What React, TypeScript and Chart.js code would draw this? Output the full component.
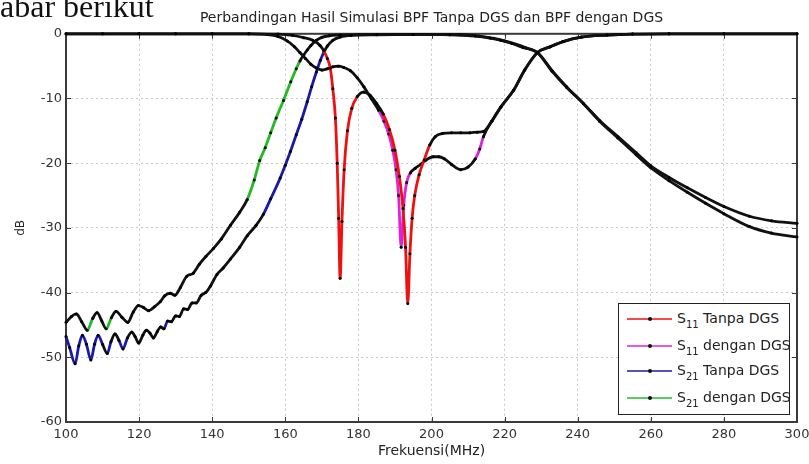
import React, { useEffect, useRef } from "react";
import { Chart, registerables } from "chart.js";

Chart.register(...registerables);

const TITLE = "Perbandingan Hasil Simulasi BPF Tanpa DGS dan BPF dengan DGS";
const X_LABEL = "Frekuensi(MHz)";
const Y_LABEL = "dB";
const X_MIN = 100, X_MAX = 300, X_STEP = 20;
const Y_MIN = -60, Y_MAX = 0, Y_STEP = 10;

const seriesLabels = ["S11 Tanpa DGS", "S11 dengan DGS", "S21 Tanpa DGS", "S21 dengan DGS"];
const seriesColors = ["#ee1111", "#dd22dd", "#1a1aaa", "#22bb22"];

// S11 Tanpa DGS
const s11TanpaFreq = [100, 110, 120, 130, 140, 150, 158, 162, 165, 167.5, 169.5, 170.5, 171.5, 172.3, 173.0, 173.7, 174.2, 174.6, 175.0, 175.5, 176.1, 177, 178.2, 179.7, 181.4, 183.2, 185, 186.8, 188.5, 190, 191.2, 192.2, 192.9, 193.5, 194.1, 194.7, 195.4, 196.6, 198, 199.5, 201, 203, 205.5, 208, 210.5, 212.5, 214.2, 216.5, 219, 222.5, 225.5, 229, 232.5, 236, 241, 248, 255, 265, 280, 300];
const s11TanpaDb = [0, 0, 0, 0, 0, 0, -0.05, -0.25, -0.6, -1.0, -1.8, -2.6, -3.8, -5.3, -8.5, -13, -20, -28.5, -37.8, -29, -21, -15, -11.5, -9.7, -9.0, -9.5, -10.8, -12.4, -14.8, -18, -22, -27, -33, -41.7, -34, -28.5, -25, -21.8, -19.5, -17.2, -15.9, -15.4, -15.3, -15.3, -15.3, -15.2, -15.1, -13.5, -11.3, -8.7, -5.6, -2.9, -2.0, -1.2, -0.5, -0.2, -0.05, 0, 0, 0];

// S11 dengan DGS
const s11DenganFreq = [100, 110, 120, 130, 140, 150, 155, 158, 160.5, 162.5, 164, 165.5, 167, 168.5, 170, 171.5, 173, 174.5, 176, 177.8, 179.7, 181.5, 183.5, 185.5, 187, 188.3, 189.4, 190.3, 191, 191.7, 192.4, 193.2, 194.2, 195.5, 197, 198.5, 200.5, 202, 203.5, 205.5, 208, 210, 212, 213.2, 214.2, 216.5, 219, 222.5, 225.5, 229, 232.5, 236, 241, 248, 255, 265, 280, 300];
const s11DenganDb = [0, 0, 0, 0, 0, 0, -0.1, -0.4, -1.1, -2.0, -2.9, -3.8, -4.7, -5.3, -5.6, -5.4, -5.1, -5.0, -5.2, -5.7, -6.8, -8.2, -10, -11.8, -13.5, -15.5, -18, -21, -25, -33, -26.5, -23, -21.5, -20.8, -20.2, -19.5, -19, -19, -19.3, -20.2, -21, -20.6, -19.3, -17.8, -15.9, -13.5, -11.3, -8.7, -5.6, -2.9, -2.0, -1.2, -0.5, -0.2, -0.05, 0, 0, 0];

// S21 Tanpa DGS
const s21TanpaFreq = [100, 101, 102.5, 103.5, 104.5, 105.6, 106.8, 107.8, 108.8, 110, 111.3, 112.3, 113.4, 114.5, 115.6, 116.8, 118, 118.9, 119.9, 121, 122, 123, 123.9, 125, 125.9, 126.8, 127.8, 128.8, 130, 131, 132.2, 133.3, 134.5, 135.6, 137, 138.2, 139.5, 141.3, 143, 145, 147.5, 149.6, 152, 154, 156, 158.6, 160, 161.4, 163, 164.5, 166, 167.2, 168.5, 169.6, 170.6, 171.5, 173, 175, 178, 185, 195, 205, 212, 216, 219, 222, 225, 229, 233, 237, 241.6, 246, 251, 256, 260, 265, 270, 275, 280, 287, 293, 300];
const s21TanpaDb = [-46.8, -48.5, -51, -48.2, -46.6, -48, -50.4, -48, -46.6, -48, -49.4, -47.6, -46.4, -47.4, -48.7, -47, -46.1, -46.8, -47.8, -46.6, -45.8, -46.3, -47, -46, -45.3, -45.6, -44.4, -44.5, -43.6, -43.7, -42.5, -42.6, -41.6, -41.6, -40.4, -40, -39, -37.2, -36.2, -34.8, -33, -31.2, -29.6, -27.9, -25.5, -22.3, -20.3, -18.2, -15.6, -13.2, -10.5, -8.2, -5.9, -4.1, -2.8, -1.9, -1.0, -0.5, -0.25, -0.15, -0.1, -0.15, -0.35, -0.65, -1.0, -1.5, -2.1, -2.9, -5.7, -8.2, -10.8, -13.5, -16.1, -18.7, -20.7, -22.7, -24.5, -26.2, -27.8, -29.8, -30.8, -31.4];

// S21 dengan DGS
const s21DenganFreq = [100, 101.5, 102.8, 104.3, 105.8, 107.3, 108.5, 109.8, 111, 112.4, 113.7, 115.3, 116.9, 118.4, 119.8, 121.2, 122.6, 124.2, 125.8, 127, 128.5, 129.8, 131.3, 133, 134.8, 136.5, 138.3, 140.3, 142.5, 145, 147.5, 149.6, 151.5, 153, 154.5, 156, 157.5, 159.5, 161.5, 163, 164, 165, 166, 167, 168.5, 170, 172, 175, 180, 190, 200, 208, 213, 217, 220, 223, 226, 229, 233, 237, 241.6, 246, 251, 256, 260, 265, 270, 275, 280, 287, 293, 300];
const s21DenganDb = [-44.6, -43.7, -43.3, -44.5, -45.8, -44, -43.1, -44.4, -45.6, -43.9, -42.9, -43.8, -44.6, -43, -42, -42.3, -42.8, -42.2, -41.4, -40.5, -40.1, -40.4, -39.2, -37.5, -37, -35.6, -34.4, -33.2, -31.7, -29.6, -27.6, -25.6, -22.6, -19.6, -17.6, -15.3, -13, -10.3, -7.4, -5.4, -4.2, -3.3, -2.5, -1.8, -1.0, -0.55, -0.3, -0.2, -0.12, -0.1, -0.1, -0.15, -0.35, -0.7, -1.1, -1.6, -2.2, -2.9, -5.8, -8.3, -10.8, -13.4, -15.9, -18.4, -20.4, -22.2, -23.8, -25.3, -26.7, -28.2, -28.9, -29.3];

const seriesFreqs = [s11TanpaFreq, s11DenganFreq, s21TanpaFreq, s21DenganFreq];
const seriesDbs = [s11TanpaDb, s11DenganDb, s21TanpaDb, s21DenganDb];

const FONT = "'DejaVu Sans', 'Liberation Sans', Arial, sans-serif";

const boxPlugin = {
  id: "matlabBox",
  beforeDatasetsDraw(chart: any) {
    const { ctx, chartArea, scales } = chart;
    const { left, right, top, bottom } = chartArea;
    ctx.save();
    ctx.strokeStyle = "#3a3a3a";
    ctx.lineWidth = 2;
    ctx.strokeRect(left, top, right - left, bottom - top);
    ctx.lineWidth = 1;
    ctx.beginPath();
    scales.x.ticks.forEach((t: any) => {
      const px = Math.round(scales.x.getPixelForValue(t.value)) + 0.5;
      ctx.moveTo(px, bottom); ctx.lineTo(px, bottom - 5);
      ctx.moveTo(px, top); ctx.lineTo(px, top + 5);
    });
    scales.y.ticks.forEach((t: any) => {
      const py = Math.round(scales.y.getPixelForValue(t.value)) + 0.5;
      ctx.moveTo(left, py); ctx.lineTo(left + 5, py);
      ctx.moveTo(right, py); ctx.lineTo(right - 5, py);
    });
    ctx.stroke();
    ctx.restore();
  },
};

function Legend() {
  const rows = [15, 42, 67, 94];
  const subs = ["11", "11", "21", "21"];
  const rest = [" Tanpa DGS", " dengan DGS", " Tanpa DGS", " dengan DGS"];
  return (
    <div style={{ position: "absolute", left: 618, top: 303, width: 172, height: 112, boxSizing: "border-box", border: "1.5px solid #222", background: "#fff", fontFamily: FONT, fontSize: 14, color: "#222" }}>
      {rows.map((c, i) => (
        <React.Fragment key={i}>
          <div style={{ position: "absolute", left: 8, top: c - 1, width: 45, height: 1.5, background: seriesColors[i], opacity: 0.75 }} />
          <div style={{ position: "absolute", left: 29, top: c - 2, width: 4, height: 4, borderRadius: "50%", background: "#111" }} />
          <div style={{ position: "absolute", left: 58, top: c - 10, lineHeight: "18px", whiteSpace: "nowrap" }}>
            S<span style={{ fontSize: 10, position: "relative", top: 5 }}>{subs[i]}</span>{rest[i]}
          </div>
        </React.Fragment>
      ))}
    </div>
  );
}

export default function App() {
  const ref = useRef<HTMLCanvasElement | null>(null);
  useEffect(() => {
    if (!ref.current) return;
    const datasets = seriesLabels.map((label, i) => {
      const color = seriesColors[i];
      return {
        label,
        data: seriesFreqs[i].map((f, j) => ({ x: f, y: seriesDbs[i][j] })),
        borderColor: "#111",
        borderWidth: 2.8,
        pointRadius: 1.5,
        pointHoverRadius: 0,
        pointBackgroundColor: "#000",
        pointBorderWidth: 0,
        cubicInterpolationMode: "monotone" as const,
        clip: false as any,
        segment: {
          borderColor: (ctx: any) => {
            const dx = Math.abs(ctx.p1.x - ctx.p0.x);
            const dy = Math.abs(ctx.p1.y - ctx.p0.y);
            return dy > 2 * dx ? color : "#111";
          },
        },
      };
    });
    const tickFont = { family: FONT, size: 13 };
    const chart = new Chart(ref.current, {
      type: "line",
      data: { datasets },
      plugins: [boxPlugin],
      options: {
        animation: false,
        responsive: false,
        maintainAspectRatio: false,
        layout: { padding: { left: 0, right: 0, top: 0, bottom: 0 } },
        plugins: {
          legend: { display: false },
          tooltip: { enabled: false },
          title: { display: true, fullSize: false, text: TITLE, color: "#222", font: { family: FONT, size: 14, weight: "normal" }, padding: { top: 10, bottom: 7 } },
        },
        scales: {
          x: {
            type: "linear", min: X_MIN, max: X_MAX,
            ticks: { stepSize: X_STEP, font: tickFont, color: "#333", padding: 5, maxRotation: 0 },
            grid: { color: "#c8c8c8", drawTicks: false, lineWidth: 1 },
            border: { display: false, dash: [2, 3] },
            title: { display: true, text: X_LABEL, color: "#222", font: { family: FONT, size: 14 }, padding: { top: 0, bottom: 4 } },
            afterFit: (s: any) => { s.height = 42; s.paddingRight = 12; s.paddingLeft = 0; },
          },
          y: {
            type: "linear", min: Y_MIN, max: Y_MAX,
            ticks: { stepSize: Y_STEP, font: tickFont, color: "#333", padding: 4 },
            grid: { color: "#c8c8c8", drawTicks: false, lineWidth: 1 },
            border: { display: false, dash: [2, 3] },
            title: { display: true, text: Y_LABEL, color: "#222", font: { family: FONT, size: 12 }, padding: { top: 14, bottom: 0 } },
            afterFit: (s: any) => { s.width = 66; },
          },
        },
      } as any,
    });
    return () => chart.destroy();
  }, []);
  return (
    <div style={{ position: "fixed", left: 0, top: 0, width: 809, height: 464, background: "#fff", overflow: "hidden" }}>
      <canvas ref={ref} width={809} height={464} style={{ position: "absolute", left: 0, top: 0, width: 809, height: 464 }} />
      <div style={{ position: "absolute", left: 0, top: -10, fontFamily: "'Liberation Serif', 'DejaVu Serif', serif", fontSize: 32, lineHeight: "32px", color: "#111", whiteSpace: "nowrap" }}>abar berikut</div>
      <Legend />
    </div>
  );
}
